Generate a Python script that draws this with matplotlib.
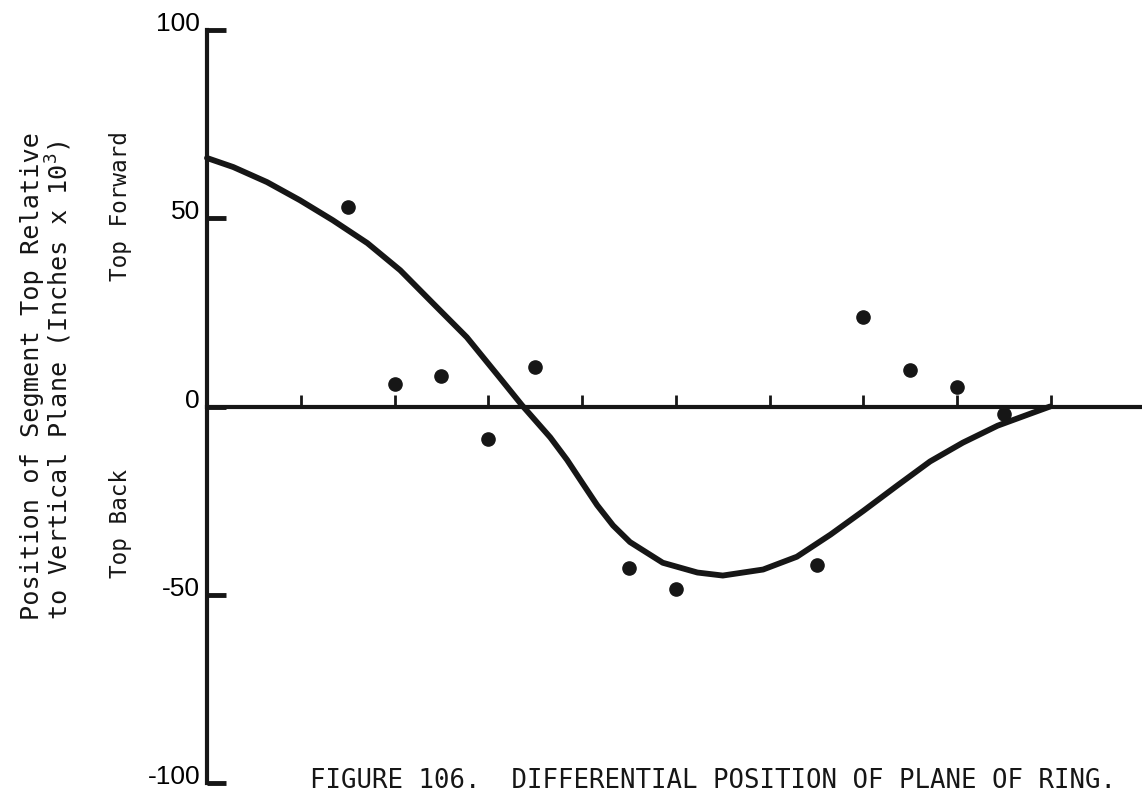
import matplotlib
matplotlib.use("Agg")
import matplotlib.pyplot as plt
from matplotlib.transforms import ScaledTranslation

# measured points (segment position, top offset in inches x 1e3)
pos = [1.5, 2.0, 2.5, 3.0, 3.5, 4.5, 5.0, 6.5, 7.0, 7.5, 8.0, 8.5]
offset = [53, 6, 8, -8.5, 10.6, -42.8, -48.4, -42, 23.9, 9.8, 5.1, -1.9]

# hand-drawn fit curve
curve_x = [0.0, 0.28, 0.64, 0.99, 1.34, 1.71, 2.06, 2.41, 2.77, 3.12, 3.36,
           3.66, 3.84, 4.01, 4.16, 4.33, 4.51, 4.86, 5.23, 5.5, 5.93, 6.29,
           6.65, 7.0, 7.36, 7.71, 8.06, 8.43, 8.78, 8.99]
curve_y = [66.0, 63.6, 59.6, 54.8, 49.5, 43.4, 36.2, 27.4, 18.4, 7.7, 0.3,
           -8.2, -14.2, -20.6, -26.2, -31.6, -36.0, -41.5, -44.1, -44.9, -43.3, -39.9,
           -34.0, -27.7, -21.0, -14.6, -9.6, -5.1, -1.9, 0.0]

x_ticks = [1, 2, 3, 4, 5, 6, 7, 8, 9]
y_ticks = [-100, -50, 0, 50, 100]

plt.rcParams["mathtext.default"] = "regular"

fig = plt.figure(figsize=(11.42, 7.94), dpi=100)
ax = fig.add_axes([207 / 1142, 1 - 783 / 794, 1 - 207 / 1142, (783 - 30) / 794])

ax.plot(curve_x, curve_y, color="#161616", linewidth=4.2,
        solid_capstyle="round", solid_joinstyle="round", clip_on=False, zorder=3)
ax.plot(pos, offset, "o", color="#161616", markersize=9.5, zorder=4, clip_on=False)

ax.set_xlim(0, 9.97)
ax.set_ylim(-100, 100)

for s in ["top", "right"]:
    ax.spines[s].set_visible(False)
ax.spines["bottom"].set_position(("data", 0))
ax.spines["bottom"].set_linewidth(3)
ax.spines["left"].set_linewidth(3)
ax.spines["bottom"].set_color("#161616")
ax.spines["left"].set_color("#161616")

ax.set_xticks(x_ticks)
ax.tick_params(axis="x", direction="in", length=9, width=2, labelbottom=False,
               color="#161616")
ax.set_yticks(y_ticks)
ax.set_yticklabels([str(v) for v in y_ticks])
ax.tick_params(axis="y", direction="in", length=14, width=3.5, pad=5,
               color="#161616", labelsize=19)
shift = ScaledTranslation(0, 6 / 72, fig.dpi_scale_trans)
for lab in ax.get_yticklabels():
    lab.set_fontfamily("Liberation Sans")
    lab.set_transform(lab.get_transform() + shift)

mono = "DejaVu Sans Mono"
fig.text(47 / 1142, 1 - 376 / 794,
         "Position of Segment Top Relative\nto Vertical Plane (Inches x 10$^3$)",
         rotation=90, ha="center", va="center", multialignment="left",
         family=mono, fontsize=18.2, linespacing=1.0, color="#161616")
fig.text(120 / 1142, 1 - 206 / 794, "Top Forward", rotation=90, ha="center",
         va="center", family=mono, fontsize=16.3, color="#161616")
fig.text(120 / 1142, 1 - 523 / 794, "Top Back", rotation=90, ha="center",
         va="center", family=mono, fontsize=16.3, color="#161616")
fig.text(310 / 1142, 6 / 794, "FIGURE 106.  DIFFERENTIAL POSITION OF PLANE OF RING.",
         ha="left", va="baseline", family=mono, fontsize=18.5, color="#161616")

fig.savefig("out.png", dpi=100)
